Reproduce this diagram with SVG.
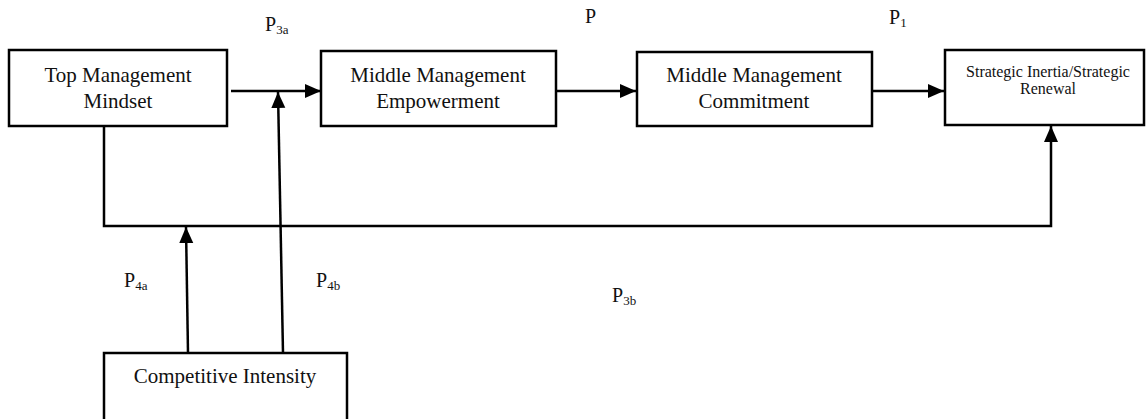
<svg xmlns="http://www.w3.org/2000/svg" width="1146" height="419" viewBox="0 0 1146 419">
  <style>
    .box { fill: #fff; stroke: #000; stroke-width: 2.5; }
    .lbl { font-family: "Liberation Serif", "Times New Roman", serif; font-size: 21px; fill: #111; text-anchor: middle; }
    .sm { font-family: "Liberation Serif", "Times New Roman", serif; font-size: 16px; fill: #111; text-anchor: middle; }
    .p { font-family: "Liberation Serif", "Times New Roman", serif; font-size: 20px; fill: #111; }
    .sub { font-size: 13px; }
    .wire { fill: none; stroke: #000; stroke-width: 2.5; }
  </style>
  <defs>
    <marker id="head" viewBox="0 0 16 16" refX="16" refY="8" markerWidth="16" markerHeight="16" orient="auto" markerUnits="userSpaceOnUse">
      <path d="M0,1 L16,8 L0,15 Z" fill="#000"/>
    </marker>
  </defs>

  <g id="connectors">
    <line class="wire" x1="231" y1="91" x2="321" y2="91" marker-end="url(#head)"/>
    <line class="wire" x1="556" y1="91" x2="636" y2="91" marker-end="url(#head)"/>
    <line class="wire" x1="872" y1="91" x2="944" y2="91" marker-end="url(#head)"/>
    <polyline class="wire" points="104,126 104,226 1051,226 1051,126" marker-end="url(#head)"/>
    <line class="wire" x1="188" y1="353" x2="186" y2="227" marker-end="url(#head)"/>
    <line class="wire" x1="283" y1="353" x2="278" y2="92" marker-end="url(#head)"/>
  </g>

  <g id="top-management">
    <rect class="box" x="9" y="50" width="218" height="76"/>
    <text class="lbl" x="118" y="82">Top Management</text>
    <text class="lbl" x="118" y="108">Mindset</text>
  </g>

  <g id="mm-empowerment">
    <rect class="box" x="321" y="51" width="235" height="75"/>
    <text class="lbl" x="438" y="82">Middle Management</text>
    <text class="lbl" x="438" y="108">Empowerment</text>
  </g>

  <g id="mm-commitment">
    <rect class="box" x="637" y="52" width="235" height="74"/>
    <text class="lbl" x="754" y="82">Middle Management</text>
    <text class="lbl" x="754" y="108">Commitment</text>
  </g>

  <g id="strategic-outcome">
    <rect class="box" x="945" y="50" width="199" height="75"/>
    <text class="sm" x="1048" y="77">Strategic Inertia/Strategic</text>
    <text class="sm" x="1048" y="94">Renewal</text>
  </g>

  <g id="competitive-intensity">
    <rect class="box" x="104" y="353" width="243" height="80"/>
    <text class="lbl" x="225" y="383">Competitive Intensity</text>
  </g>

  <g id="labels">
    <text class="p" x="265" y="31">P<tspan class="sub" dy="3">3a</tspan></text>
    <text class="p" x="585" y="23">P</text>
    <text class="p" x="889" y="24">P<tspan class="sub" dy="3">1</tspan></text>
    <text class="p" x="124" y="287">P<tspan class="sub" dy="3">4a</tspan></text>
    <text class="p" x="316" y="287">P<tspan class="sub" dy="3">4b</tspan></text>
    <text class="p" x="612" y="302">P<tspan class="sub" dy="3">3b</tspan></text>
  </g>
</svg>
